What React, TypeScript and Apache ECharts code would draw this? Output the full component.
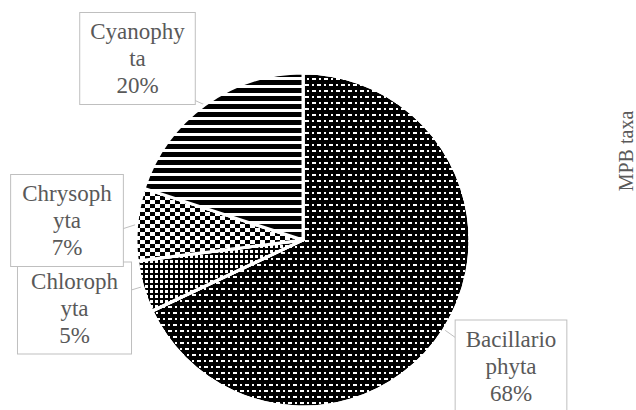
import React, { useEffect, useRef } from "react";
import * as echarts from "echarts";

// ---- data ----
const categories = ["Bacillariophyta", "Chlorophyta", "Chrysophyta", "Cyanophyta"];
const labelTexts = ["Bacillario\nphyta", "Chloroph\nyta", "Chrysoph\nyta", "Cyanophy\nta"];
const percentValues = [68, 5, 7, 20];
const sideTitle = "MPB taxa";

// ---- layout / styles ----
const labelCenters: [number, number][] = [
  [511, 366],
  [74.5, 308],
  [67, 220.5],
  [137.5, 58.5],
];
// where each callout's pointer meets its box
const pointerEnds: [number, number][] = [
  [456, 338],
  [128, 291],
  [122, 229],
  [194, 100],
];

const baseColors = ["#000000", "#000000", "#ffffff", "#ffffff"];

const decals: any[] = [
  { symbol: "rect", symbolSize: 1, color: "#ffffff", backgroundColor: "#000000", dashArrayX: [[4, 3, 2, 3], [2, 3, 4, 3]], dashArrayY: [2, 4] },
  { symbol: "rect", symbolSize: 1, color: "#ffffff", backgroundColor: "#000000", dashArrayX: [[3, 2]], dashArrayY: [3, 2] },
  { symbol: "rect", symbolSize: 1, color: "#000000", backgroundColor: "#ffffff", dashArrayX: [[5, 5], [0, 5, 5, 0]], dashArrayY: [4, 0] },
  { symbol: "rect", symbolSize: 1, color: "#000000", backgroundColor: "#ffffff", dashArrayX: [[8, 0]], dashArrayY: [5, 3] },
];

const FONT = "Liberation Serif";
const CX = 303;
const CY = 240;
const R = 167;

export default function App() {
  const ref = useRef<HTMLDivElement>(null);

  useEffect(() => {
    if (!ref.current) return;
    const chart = echarts.init(ref.current, undefined, { renderer: "svg" });
    const total = percentValues.reduce((a, b) => a + b, 0);
    const data = categories.map((name, i) => ({
      name,
      value: percentValues[i],
      itemStyle: { color: baseColors[i], decal: decals[i] },
    }));
    chart.setOption({
      animation: false,
      backgroundColor: "#ffffff",
      graphic: [
        {
          type: "text",
          x: 626,
          y: 151,
          rotation: Math.PI / 2,
          style: {
            text: sideTitle,
            font: `20px ${FONT}`,
            fill: "#595959",
            textAlign: "center",
            textVerticalAlign: "middle",
          },
        },
      ],
      series: [
        {
          type: "pie",
          center: [CX, CY],
          radius: R,
          startAngle: 90,
          clockwise: true,
          data,
          itemStyle: { borderColor: "#ffffff", borderWidth: 3 },
          label: {
            show: true,
            position: "outside",
            formatter: (p: any) => `${labelTexts[p.dataIndex]}\n${p.value}%`,
            fontFamily: FONT,
            fontSize: 23,
            lineHeight: 27,
            color: "#595959",
            align: "center",
            backgroundColor: "#ffffff",
            borderColor: "#bfbfbf",
            borderWidth: 1,
            padding: [7, 10, 3, 10],
          },
          labelLine: { show: true, length: 10, length2: 5, lineStyle: { color: "#bfbfbf", width: 1 } },
          labelLayout: (params: any) => {
            const i = params.dataIndex;
            const c = labelCenters[i];
            let before = 0;
            for (let k = 0; k < i; k++) before += percentValues[k];
            const mid = ((before + percentValues[i] / 2) / total) * Math.PI * 2;
            const anchor = [CX + R * Math.sin(mid), CY - R * Math.cos(mid)];
            const end = pointerEnds[i];
            return {
              x: c[0],
              y: c[1],
              align: "center",
              verticalAlign: "middle",
              labelLinePoints: [anchor, end, end],
            };
          },
        },
      ],
    });
    return () => chart.dispose();
  }, []);

  return <div ref={ref} style={{ position: "fixed", left: 0, top: 0, width: 636, height: 410 }} />;
}
